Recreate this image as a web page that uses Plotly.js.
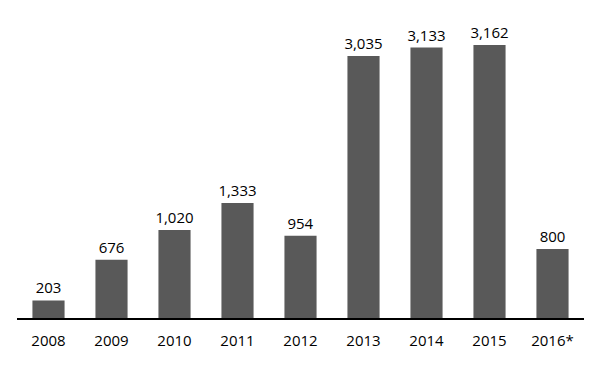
<!DOCTYPE html>
<html><head><meta charset="utf-8">
<script src="https://cdn.plot.ly/plotly-3.0.1.min.js"></script>
<style>html,body{margin:0;padding:0;background:#fff}</style>
</head><body>
<div id="chart" style="width:604px;height:378px"></div>
<script>
const years = ["2008","2009","2010","2011","2012","2013","2014","2015","2016*"];
const values = [203, 676, 1020, 1333, 954, 3035, 3133, 3162, 800];

Plotly.newPlot('chart', [{
  type: 'bar',
  x: years,
  y: values,
  marker: {color: '#595959'},
  texttemplate: '%{y:,}',
  textposition: 'outside',
  constraintext: 'none',
  cliponaxis: false,
  textfont: {family: 'Open Sans, Liberation Sans, sans-serif', size: 15, color: '#000'},
  hoverinfo: 'none'
}], {
  width: 604, height: 378,
  margin: {l: 17, r: 20, t: 20, b: 60},
  paper_bgcolor: '#fff', plot_bgcolor: '#fff',
  bargap: 0.49,
  showlegend: false,
  font: {family: 'Open Sans, Liberation Sans, sans-serif', size: 15, color: '#000'},
  xaxis: {
    type: 'category',
    showline: true, linecolor: '#000', linewidth: 1.5,
    ticks: '', showgrid: false, zeroline: false,
    ticklabelstandoff: 8,
    tickfont: {size: 15, color: '#000'}
  },
  yaxis: {
    range: [0, 3452],
    visible: false, showgrid: false, zeroline: false
  }
}, {displayModeBar: false, staticPlot: true});
</script>
</body></html>
